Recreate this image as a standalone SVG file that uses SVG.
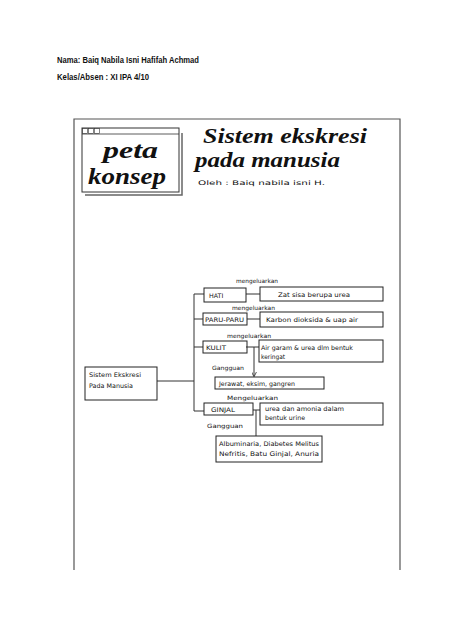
<svg xmlns="http://www.w3.org/2000/svg" width="474" height="632" viewBox="0 0 474 632">
<style>
.hdr{font-family:"Liberation Sans",Arial,sans-serif;font-weight:bold;font-size:9.5px;fill:#111}
.script{font-family:"Liberation Serif","DejaVu Serif",serif;font-style:italic;fill:#111}
.hand{font-family:"DejaVu Sans","Liberation Sans",sans-serif;font-size:6.3px;fill:#111}
.lbl{font-family:"DejaVu Sans","Liberation Sans",sans-serif;font-size:5.8px;fill:#111}
.box{fill:none;stroke:#222;stroke-width:1}
.ln{fill:none;stroke:#333;stroke-width:1}
.frame{fill:none;stroke:#555;stroke-width:1.2}
</style>
<defs>
<marker id="arr" viewBox="0 0 6 6" refX="5" refY="3" markerWidth="5" markerHeight="5" orient="auto">
<path d="M0,0 L6,3 L0,6" fill="none" stroke="#333" stroke-width="1"/>
</marker>
</defs>
<rect width="474" height="632" fill="#fff"/>
<text class="hdr" x="57" y="63" textLength="142" lengthAdjust="spacingAndGlyphs">Nama: Baiq Nabila Isni Hafifah Achmad</text>
<text class="hdr" x="57" y="80" textLength="92" lengthAdjust="spacingAndGlyphs">Kelas/Absen : XI IPA 4/10</text>
<polyline class="frame" points="74,570 74,119 400,119 400,570"/>
<g id="peta-konsep">
<polyline points="85,195 182,195 182,133" fill="none" stroke="#666" stroke-width="1.5"/>
<rect x="82" y="128" width="97" height="64" fill="#fff" stroke="#333" stroke-width="1"/>
<line x1="82" y1="134" x2="179" y2="134" stroke="#333" stroke-width="0.8"/>
<rect x="82.5" y="128.5" width="5" height="5" fill="none" stroke="#333" stroke-width="0.6"/>
<rect x="88.5" y="128.5" width="5" height="5" fill="none" stroke="#333" stroke-width="0.6"/>
<rect x="94.5" y="128.5" width="5" height="5" fill="none" stroke="#333" stroke-width="0.6"/>
<text class="script" x="103" y="158" font-size="24" font-weight="bold" textLength="55" lengthAdjust="spacingAndGlyphs">peta</text>
<text class="script" x="88" y="184" font-size="24" font-weight="bold" textLength="78" lengthAdjust="spacingAndGlyphs">konsep</text>
</g>
<g id="title">
<text class="script" x="203" y="143" font-size="21" font-weight="bold" textLength="164" lengthAdjust="spacingAndGlyphs">Sistem ekskresi</text>
<text class="script" x="195" y="167" font-size="21" font-weight="bold" textLength="145" lengthAdjust="spacingAndGlyphs">pada manusia</text>
<text class="hand" x="198" y="185" font-size="7.5" textLength="127" lengthAdjust="spacingAndGlyphs">Oleh  :  Baiq nabila isni H.</text>
</g>
<g id="connectors">
<polyline class="ln" points="204,294 194,294 194,411 204,411"/>
<line class="ln" x1="194" y1="319" x2="203" y2="319"/>
<line class="ln" x1="194" y1="347" x2="203" y2="347"/>
<line class="ln" x1="157" y1="381" x2="194" y2="381"/>
<line class="ln" x1="246" y1="294" x2="260" y2="294"/>
<line class="ln" x1="247" y1="319" x2="260" y2="319"/>
<line class="ln" x1="246" y1="347" x2="259" y2="347"/>
<line class="ln" x1="254" y1="347" x2="254" y2="376" marker-end="url(#arr)"/>
<line class="ln" x1="253" y1="410" x2="260" y2="410"/>
<line class="ln" x1="256" y1="410" x2="256" y2="436"/>
</g>
<g id="labels">
<text class="lbl" x="236" y="283" textLength="42" lengthAdjust="spacingAndGlyphs">mengeluarkan</text>
<text class="lbl" x="232" y="310" textLength="43" lengthAdjust="spacingAndGlyphs">mengeluarkan</text>
<text class="lbl" x="227" y="338" textLength="44" lengthAdjust="spacingAndGlyphs">mengeluarkan</text>
<text class="lbl" x="212" y="370" textLength="32" lengthAdjust="spacingAndGlyphs">Gangguan</text>
<text class="lbl" x="227" y="400" textLength="51" lengthAdjust="spacingAndGlyphs">Mengeluarkan</text>
<text class="lbl" x="207" y="428" textLength="36" lengthAdjust="spacingAndGlyphs">Gangguan</text>
</g>
<g id="sistem">
<rect class="box" x="85" y="367" width="72" height="33"/>
<text class="hand" x="89" y="377" textLength="52" lengthAdjust="spacingAndGlyphs">Sistem Ekskresi</text>
<text class="hand" x="89" y="388" textLength="44" lengthAdjust="spacingAndGlyphs">Pada Manusia</text>
</g>
<g id="hati">
<rect class="box" x="204" y="288" width="42" height="14"/>
<text class="hand" x="209" y="297.5">HATI</text>
</g>
<g id="hati-hasil">
<rect class="box" x="260" y="287" width="123" height="14"/>
<text class="hand" x="278" y="296.5" textLength="72" lengthAdjust="spacingAndGlyphs">Zat sisa berupa urea</text>
</g>
<g id="paru">
<rect class="box" x="203" y="313" width="44" height="12"/>
<text class="hand" x="205" y="321.5" font-size="5.8" textLength="39" lengthAdjust="spacingAndGlyphs">PARU-PARU</text>
</g>
<g id="paru-hasil">
<rect class="box" x="260" y="312" width="123" height="15"/>
<text class="hand" x="266" y="321.5" textLength="92" lengthAdjust="spacingAndGlyphs">Karbon dioksida &amp; uap air</text>
</g>
<g id="kulit">
<rect class="box" x="203" y="341" width="44" height="12"/>
<text class="hand" x="206" y="349.5" textLength="20" lengthAdjust="spacingAndGlyphs">KULIT</text>
</g>
<g id="kulit-hasil">
<rect class="box" x="259" y="340" width="124" height="22"/>
<text class="hand" x="261" y="350" textLength="92" lengthAdjust="spacingAndGlyphs">Air garam &amp; urea dlm bentuk</text>
<text class="hand" x="261" y="359" textLength="24" lengthAdjust="spacingAndGlyphs">keringat</text>
</g>
<g id="kulit-gangguan">
<rect class="box" x="215" y="377" width="109" height="12"/>
<text class="hand" x="219" y="385.5" textLength="76" lengthAdjust="spacingAndGlyphs">Jerawat, eksim, gangren</text>
</g>
<g id="ginjal">
<rect class="box" x="204" y="403" width="49" height="12"/>
<text class="hand" x="211" y="411.5" textLength="24" lengthAdjust="spacingAndGlyphs">GINJAL</text>
</g>
<g id="ginjal-hasil">
<rect class="box" x="260" y="403" width="123" height="22"/>
<text class="hand" x="265" y="411" textLength="79" lengthAdjust="spacingAndGlyphs">urea dan amonia  dalam</text>
<text class="hand" x="265" y="420" textLength="40" lengthAdjust="spacingAndGlyphs">bentuk urine</text>
</g>
<g id="ginjal-gangguan">
<rect class="box" x="216" y="436" width="106" height="26"/>
<text class="hand" x="219" y="446" textLength="100" lengthAdjust="spacingAndGlyphs">Albuminaria, Diabetes Melitus</text>
<text class="hand" x="219" y="456" textLength="100" lengthAdjust="spacingAndGlyphs">Nefritis, Batu Ginjal, Anuria</text>
</g>
</svg>
